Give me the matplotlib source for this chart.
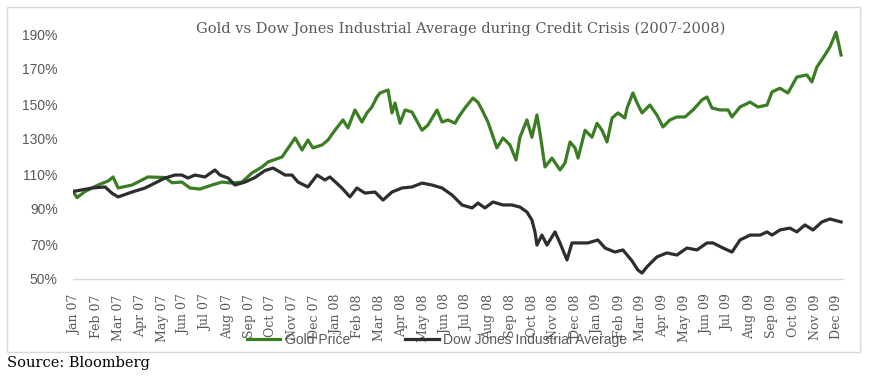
import matplotlib
matplotlib.use("Agg")
import matplotlib.pyplot as plt

# ---- data (month index: 0 = Jan 07, 35 = Dec 09) ----
month_labels = ["Jan 07", "Feb 07", "Mar 07", "Apr 07", "May 07", "Jun 07", "Jul 07", "Aug 07",
                "Sep 07", "Oct 07", "Nov 07", "Dec 07", "Jan 08", "Feb 08", "Mar 08", "Apr 08",
                "May 08", "Jun 08", "Jul 08", "Aug 08", "Sep 08", "Oct 08", "Nov 08", "Dec 08",
                "Jan 09", "Feb 09", "Mar 09", "Apr 09", "May 09", "Jun 09", "Jul 09", "Aug 09",
                "Sep 09", "Oct 09", "Nov 09", "Dec 09"]

gold_t = [-0.09, 0.09, 0.46, 1.06, 1.52, 1.75, 1.98, 2.62, 3.35, 4.13, 4.46, 4.91, 5.28, 5.74,
          6.29, 6.75, 7.21, 7.67, 8.13, 8.59, 8.87, 9.51, 10.11, 10.43, 10.70, 10.93, 11.35,
          11.62, 11.94, 12.31, 12.54, 12.86, 13.18, 13.41, 13.64, 13.87, 14.01, 14.38, 14.56,
          14.70, 14.93, 15.16, 15.48, 15.94, 16.21, 16.63, 16.86, 17.13, 17.46, 17.59, 17.91,
          18.28, 18.51, 18.70, 18.97, 19.38, 19.66, 19.98, 20.26, 20.44, 20.76, 20.99, 21.22,
          21.36, 21.59, 21.91, 22.28, 22.51, 22.74, 22.97, 23.11, 23.43, 23.75, 23.98, 24.21,
          24.44, 24.67, 24.94, 25.26, 25.36, 25.63, 25.82, 26.05, 26.41, 26.73, 27.01, 27.33,
          27.65, 28.02, 28.39, 28.80, 29.03, 29.26, 29.63, 30.00, 30.18, 30.55, 31.01, 31.37,
          31.79, 32.02, 32.38, 32.75, 33.16, 33.62, 33.85, 34.08, 34.36, 34.68, 34.96, 35.09,
          35.19]
gold_v = [100.0, 96.5, 100.0, 103.7, 106.0, 108.3, 102.0, 103.7, 108.3, 108.0, 105.0, 105.4,
          102.0, 101.4, 103.7, 105.4, 104.8, 105.4, 110.6, 114.0, 116.9, 119.7, 130.6, 123.7,
          129.4, 124.9, 126.6, 129.4, 135.0, 140.9, 136.3, 146.6, 139.7, 144.9, 148.3, 154.0,
          156.3, 158.0, 144.9, 150.6, 139.0, 146.6, 145.4, 135.0, 137.9, 146.6, 139.7, 140.9,
          139.0, 142.0, 147.7, 153.4, 151.0, 146.6, 139.7, 124.9, 130.6, 126.6, 118.0, 131.0,
          140.9, 131.0, 143.7, 133.4, 114.0, 119.1, 112.3, 116.3, 128.3, 124.9, 119.1, 135.0,
          131.0, 139.0, 135.0, 128.3, 142.0, 144.9, 142.0, 147.7, 156.3, 150.6, 144.9, 149.4,
          143.7, 136.9, 140.9, 142.6, 142.6, 146.6, 152.3, 154.0, 147.7, 146.6, 146.6, 142.6,
          148.3, 151.1, 148.3, 149.4, 156.9, 159.0, 156.3, 165.4, 166.6, 162.6, 171.1, 176.3,
          182.6, 191.0, 184.0, 178.0]

dow_t = [-0.09, 0.78, 1.38, 1.70, 1.98, 2.62, 3.22, 3.67, 4.13, 4.59, 4.91, 5.19, 5.51, 5.97,
         6.43, 6.66, 7.03, 7.35, 7.81, 8.27, 8.73, 9.10, 9.42, 9.65, 9.97, 10.24, 10.70, 11.12,
         11.48, 11.71, 12.26, 12.63, 12.95, 13.32, 13.78, 14.15, 14.56, 15.02, 15.48, 15.94,
         16.40, 16.86, 17.32, 17.78, 18.24, 18.51, 18.83, 19.20, 19.66, 20.07, 20.44, 20.76,
         20.99, 21.13, 21.22, 21.45, 21.68, 22.05, 22.28, 22.60, 22.83, 23.11, 23.56, 24.02,
         24.35, 24.80, 25.17, 25.59, 25.86, 26.05, 26.27, 26.73, 27.19, 27.65, 28.11, 28.57,
         29.03, 29.31, 29.77, 30.18, 30.55, 31.01, 31.47, 31.79, 32.02, 32.38, 32.84, 33.16,
         33.53, 33.90, 34.31, 34.68, 35.19]
dow_v = [100.0, 102.0, 102.6, 99.0, 96.9, 99.7, 102.0, 104.8, 107.7, 109.4, 109.4, 107.7, 109.4,
         108.3, 112.3, 109.4, 107.7, 103.7, 105.4, 108.0, 112.0, 113.4, 111.1, 109.4, 109.4,
         105.4, 102.6, 109.4, 106.6, 108.3, 102.0, 96.9, 102.0, 99.1, 99.7, 95.1, 99.7, 102.0,
         102.6, 104.8, 103.7, 102.0, 98.0, 92.3, 90.6, 93.4, 90.6, 94.0, 92.3, 92.3, 91.1, 88.3,
         83.7, 76.9, 69.4, 75.1, 69.4, 76.9, 70.6, 60.9, 70.6, 70.6, 70.6, 72.3, 67.7, 65.4,
         66.6, 60.3, 55.1, 53.4, 56.9, 62.6, 64.9, 63.7, 67.7, 66.6, 70.6, 70.6, 67.7, 65.4,
         72.3, 75.1, 75.1, 76.9, 75.1, 78.0, 79.1, 76.9, 80.9, 78.0, 82.6, 84.3, 82.6]

y_ticks = [50, 70, 90, 110, 130, 150, 170, 190]
series_names = ["Gold Price", "Dow Jones Industrial Average"]
title = "Gold vs Dow Jones Industrial Average during Credit Crisis (2007-2008)"
source = "Source: Bloomberg"

# ---- styling ----
GREEN = "#3a7d22"
DARK = "#2d2d2d"
GRAY_TXT = "#595959"
SANS = ["Liberation Sans", "DejaVu Sans"]
SERIF = ["DejaVu Serif"]

W, H = 869, 377
fig = plt.figure(figsize=(W / 100, H / 100), dpi=100)

# outer chart border
border = plt.Rectangle((7 / W, 1 - 352 / H), (860 - 7) / W, (352 - 7) / H,
                       transform=fig.transFigure, fill=False, edgecolor="#d9d9d9", lw=1.0)
fig.add_artist(border)

ax = fig.add_axes([73 / W, (H - 279) / H, 770 / W, 259 / H])
ax.plot(gold_t, gold_v, color=GREEN, lw=2.3, label=series_names[0], solid_joinstyle="round")
ax.plot(dow_t, dow_v, color=DARK, lw=2.3, label=series_names[1], solid_joinstyle="round")

ax.set_xlim(-0.092, 35.28)
ax.set_ylim(50, 198)
for s in ["top", "right", "left"]:
    ax.spines[s].set_visible(False)
ax.spines["bottom"].set_color("#d9d9d9")
ax.spines["bottom"].set_linewidth(1.0)

ax.set_yticks(y_ticks)
ax.set_yticklabels([f"{v}%" for v in y_ticks], fontfamily=SANS, fontsize=10, color=GRAY_TXT)
ax.set_xticks(range(len(month_labels)))
ax.set_xticklabels(month_labels, rotation=90, fontfamily=SERIF, fontsize=9, color=GRAY_TXT)
ax.tick_params(axis="both", length=0)
ax.tick_params(axis="y", pad=11)
ax.tick_params(axis="x", pad=11)

fig.text(461 / W, 1 - 29 / H, title, ha="center", va="center", fontfamily=SERIF,
         fontsize=10.5, color=GRAY_TXT)
fig.text(7 / W, 1 - 363 / H, source, ha="left", va="center", fontfamily=SERIF,
         fontsize=10.5, color="black")

leg = fig.legend(loc="center", bbox_to_anchor=(437 / W, 1 - 340 / H), ncol=2, frameon=False,
                 prop={"family": SANS, "size": 10}, handlelength=2.4, handletextpad=0.3,
                 columnspacing=4.0, borderpad=0)
for t in leg.get_texts():
    t.set_color(GRAY_TXT)

fig.savefig("out.png", dpi=100)
